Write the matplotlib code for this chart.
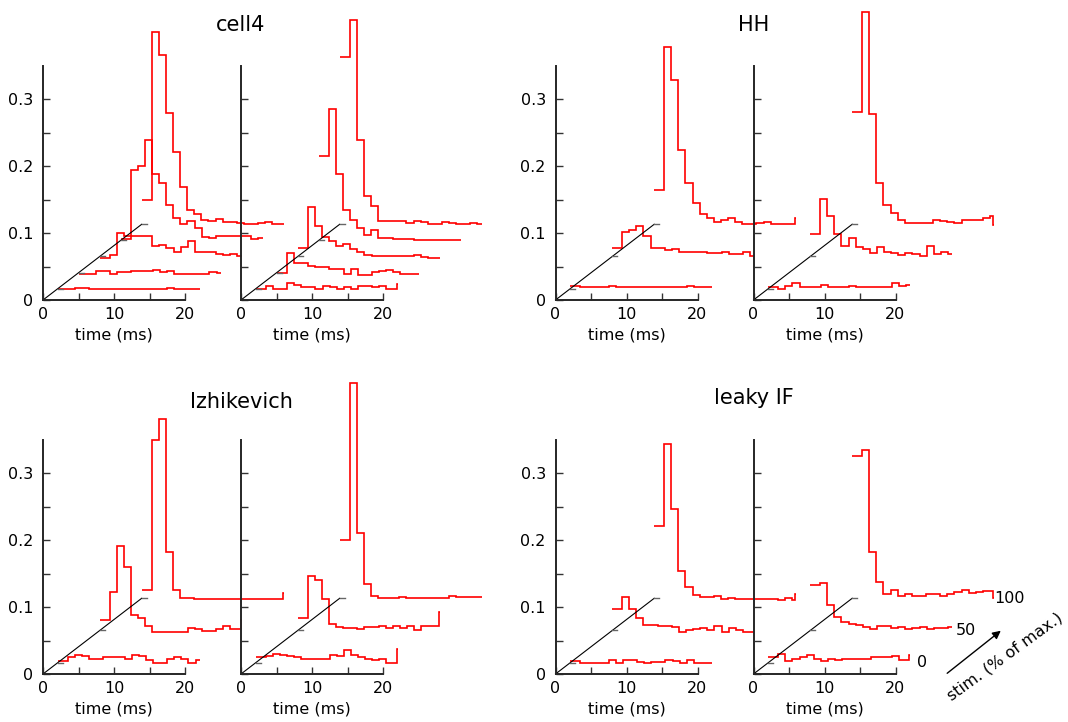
import numpy as np
import matplotlib.pyplot as plt

# stimulus levels (% of max) shown in each panel
stims_cell4 = [0, 25, 50, 75, 100]
stims_model = [0, 50, 100]

# PSTH levels per 1 ms bin, one list per stimulus level (a 21st value is the last short bin)
cell4_a = [
    [0.016, 0.016, 0.018, 0.018, 0.016, 0.016, 0.016, 0.016, 0.016, 0.016, 0.016, 0.016, 0.016, 0.016, 0.016, 0.018, 0.016, 0.016, 0.016, 0.016],
    [0.039, 0.039, 0.044, 0.044, 0.039, 0.042, 0.042, 0.043, 0.043, 0.043, 0.045, 0.042, 0.043, 0.039, 0.039, 0.039, 0.039, 0.039, 0.042, 0.040],
    [0.063, 0.067, 0.100, 0.096, 0.096, 0.096, 0.096, 0.081, 0.082, 0.077, 0.072, 0.079, 0.088, 0.071, 0.071, 0.071, 0.069, 0.067, 0.068, 0.066],
    [0.091, 0.194, 0.200, 0.239, 0.188, 0.174, 0.142, 0.122, 0.114, 0.118, 0.107, 0.094, 0.093, 0.095, 0.095, 0.095, 0.095, 0.095, 0.091, 0.092],
    [0.149, 0.400, 0.366, 0.279, 0.221, 0.169, 0.134, 0.128, 0.119, 0.118, 0.121, 0.117, 0.116, 0.115, 0.114, 0.114, 0.115, 0.116, 0.114, 0.113],
]
cell4_b = [
    [0.017, 0.021, 0.017, 0.017, 0.026, 0.022, 0.020, 0.020, 0.017, 0.021, 0.019, 0.016, 0.019, 0.017, 0.021, 0.021, 0.019, 0.021, 0.017, 0.017, 0.024],
    [0.041, 0.070, 0.055, 0.055, 0.051, 0.049, 0.049, 0.046, 0.047, 0.039, 0.047, 0.038, 0.038, 0.042, 0.043, 0.045, 0.042, 0.039, 0.039, 0.039],
    [0.078, 0.139, 0.110, 0.094, 0.088, 0.081, 0.083, 0.076, 0.071, 0.067, 0.065, 0.065, 0.065, 0.065, 0.065, 0.066, 0.067, 0.064, 0.063, 0.063],
    [0.215, 0.285, 0.188, 0.135, 0.119, 0.108, 0.097, 0.105, 0.092, 0.092, 0.091, 0.091, 0.091, 0.090, 0.090, 0.090, 0.090, 0.090, 0.090, 0.089],
    [0.363, 0.418, 0.239, 0.155, 0.140, 0.118, 0.118, 0.118, 0.118, 0.115, 0.118, 0.116, 0.113, 0.113, 0.116, 0.115, 0.114, 0.114, 0.115, 0.114],
]
hh_a = [
    [0.021, 0.019, 0.019, 0.019, 0.019, 0.021, 0.019, 0.019, 0.019, 0.019, 0.019, 0.020, 0.019, 0.019, 0.019, 0.019, 0.021, 0.020, 0.019, 0.020],
    [0.077, 0.101, 0.104, 0.110, 0.095, 0.077, 0.077, 0.075, 0.076, 0.072, 0.072, 0.071, 0.071, 0.070, 0.070, 0.072, 0.069, 0.069, 0.072, 0.066],
    [0.164, 0.377, 0.328, 0.224, 0.174, 0.145, 0.129, 0.122, 0.116, 0.119, 0.122, 0.117, 0.114, 0.114, 0.115, 0.117, 0.113, 0.113, 0.113, 0.113, 0.123],
]
hh_b = [
    [0.019, 0.017, 0.021, 0.025, 0.020, 0.020, 0.020, 0.022, 0.020, 0.019, 0.020, 0.021, 0.020, 0.019, 0.019, 0.019, 0.020, 0.025, 0.021, 0.023],
    [0.0985, 0.151, 0.126, 0.0985, 0.080, 0.093, 0.079, 0.076, 0.070, 0.079, 0.071, 0.070, 0.067, 0.070, 0.069, 0.066, 0.080, 0.069, 0.071, 0.068],
    [0.280, 0.430, 0.278, 0.175, 0.142, 0.130, 0.119, 0.115, 0.115, 0.115, 0.115, 0.119, 0.118, 0.117, 0.115, 0.119, 0.120, 0.119, 0.122, 0.125, 0.112],
]
izh_a = [
    [0.020, 0.025, 0.028, 0.027, 0.023, 0.022, 0.026, 0.025, 0.025, 0.023, 0.029, 0.027, 0.021, 0.017, 0.017, 0.022, 0.025, 0.022, 0.017, 0.021],
    [0.080, 0.1225, 0.191, 0.159, 0.088, 0.083, 0.072, 0.063, 0.063, 0.063, 0.063, 0.063, 0.069, 0.067, 0.064, 0.064, 0.067, 0.071, 0.067, 0.067, 0.080],
    [0.125, 0.349, 0.380, 0.182, 0.126, 0.113, 0.114, 0.112, 0.112, 0.112, 0.112, 0.112, 0.112, 0.112, 0.112, 0.112, 0.112, 0.112, 0.112, 0.112, 0.121],
]
izh_b = [
    [0.025, 0.027, 0.030, 0.028, 0.027, 0.025, 0.023, 0.022, 0.023, 0.023, 0.028, 0.027, 0.036, 0.028, 0.025, 0.023, 0.021, 0.023, 0.016, 0.016, 0.037],
    [0.083, 0.147, 0.140, 0.112, 0.0745, 0.070, 0.069, 0.069, 0.067, 0.070, 0.070, 0.071, 0.068, 0.071, 0.068, 0.071, 0.065, 0.072, 0.071, 0.071, 0.093],
    [0.200, 0.434, 0.211, 0.134, 0.117, 0.114, 0.114, 0.114, 0.115, 0.114, 0.114, 0.114, 0.114, 0.114, 0.114, 0.116, 0.115, 0.115, 0.115, 0.115],
]
lif_a = [
    [0.020, 0.017, 0.017, 0.017, 0.017, 0.021, 0.017, 0.021, 0.021, 0.018, 0.017, 0.018, 0.018, 0.021, 0.019, 0.016, 0.021, 0.017, 0.016, 0.016],
    [0.097, 0.1155, 0.097, 0.083, 0.073, 0.073, 0.071, 0.071, 0.070, 0.063, 0.066, 0.067, 0.069, 0.065, 0.071, 0.063, 0.068, 0.066, 0.063, 0.063],
    [0.2216, 0.343, 0.246, 0.153, 0.130, 0.118, 0.115, 0.115, 0.116, 0.112, 0.113, 0.112, 0.112, 0.112, 0.112, 0.112, 0.112, 0.111, 0.113, 0.111, 0.120],
]
lif_b = [
    [0.026, 0.030, 0.019, 0.022, 0.025, 0.028, 0.022, 0.020, 0.023, 0.021, 0.022, 0.022, 0.022, 0.022, 0.026, 0.026, 0.025, 0.027, 0.021, 0.021, 0.028],
    [0.1326, 0.136, 0.103, 0.085, 0.078, 0.0745, 0.073, 0.0706, 0.0666, 0.072, 0.071, 0.068, 0.0705, 0.0666, 0.068, 0.0705, 0.0666, 0.068, 0.068, 0.0705],
    [0.326, 0.334, 0.182, 0.138, 0.120, 0.126, 0.117, 0.119, 0.117, 0.116, 0.119, 0.120, 0.117, 0.119, 0.122, 0.126, 0.121, 0.122, 0.124, 0.124, 0.113],
]

titles = ["cell4", "HH", "Izhikevich", "leaky IF"]
panels = [(cell4_a, cell4_b, stims_cell4), (hh_a, hh_b, stims_model),
          (izh_a, izh_b, stims_model), (lif_a, lif_b, stims_model)]

# pseudo-3D offset: stim axis runs diagonally from (0,0) to (DIAG_T, DIAG_Y)
DIAG_T, DIAG_Y = 13.9, 0.113
RED = "#ff0000"

W, H = 1068, 722
fig = plt.figure(figsize=(W / 100, H / 100), dpi=100)
plt.rcParams["font.family"] = "DejaVu Sans"


def stim_frac(s):
    return 0.15 + 0.85 * s / 100


def bin_edges(x0, n):
    inner = np.arange(1, 20) + 0.4
    if n == 21:
        rel = np.concatenate([[0], inner, [19.85, 20]])
    else:
        rel = np.concatenate([[0], inner, [20]])
    return x0 + rel


def draw_sub(ax, traces, stims, show_ylabels):
    ax.plot([0, DIAG_T], [0, DIAG_Y], color="k", lw=0.8, clip_on=False)
    for s, lev in zip(stims, traces):
        f = stim_frac(s)
        ax.plot([DIAG_T * f, DIAG_T * f + 0.7], [DIAG_Y * f] * 2, color="0.4", lw=1.0, clip_on=False)
        ax.stairs(lev, bin_edges(DIAG_T * f, len(lev)), baseline=None,
                  color=RED, lw=1.2, clip_on=False)
    ax.set_xlim(0, 20)
    ax.set_ylim(0, 0.35)
    ax.set_xticks([0, 10, 20])
    ax.set_xticks([5, 15], minor=True)
    ax.set_yticks([0, 0.1, 0.2, 0.3])
    ax.set_yticks([0.05, 0.15, 0.25], minor=True)
    ax.set_yticklabels(["0", "0.1", "0.2", "0.3"])
    ax.tick_params(which="both", direction="in", length=5, width=1, color="0.2",
                   labelsize=11.5, pad=5)
    ax.tick_params(axis="y", pad=7, labelleft=show_ylabels)
    for side in ["top", "right"]:
        ax.spines[side].set_visible(False)
    for side in ["left", "bottom"]:
        ax.spines[side].set_linewidth(1.4)
        ax.spines[side].set_color("0.15")
    ax.set_xlabel("time (ms)", fontsize=11.5, labelpad=4)
    ax.patch.set_visible(False)


lefts = [[43, 241], [555.5, 753.5]]
bottoms = [300, 674]
ax_w, ax_h = 142, 234.5
title_base = [31, 31, 408, 404]

axes = []
for i, (ta, tb, stims) in enumerate(panels):
    row, col = divmod(i, 2)
    for j, tr in enumerate([ta, tb]):
        x = lefts[col][j]
        ax = fig.add_axes([x / W, 1 - bottoms[row] / H, ax_w / W, ax_h / H])
        draw_sub(ax, tr, stims, j == 0)
        axes.append(ax)
    fig.text(lefts[col][1] / W, 1 - title_base[i] / H, titles[i],
             ha="center", va="baseline", fontsize=15)

# stimulus-level labels at the end of each trace in the last panel
ax = axes[-1]
for s in stims_model:
    f = stim_frac(s)
    ax.text(DIAG_T * f + 20.9 - 0.9 * s / 100, DIAG_Y * f, str(s),
            ha="left", va="center", fontsize=11.5, clip_on=False)

ax.annotate("", xy=(1003 / W, 1 - 629 / H), xytext=(945 / W, 1 - 675 / H),
            xycoords="figure fraction", textcoords="figure fraction",
            arrowprops=dict(arrowstyle="-|>", color="k", lw=1, mutation_scale=12))
fig.text(1005 / W, 1 - 657 / H, "stim. (% of max.)", rotation=36,
         ha="center", va="center", rotation_mode="anchor", fontsize=11.5)

fig.savefig("out.png", dpi=100)
